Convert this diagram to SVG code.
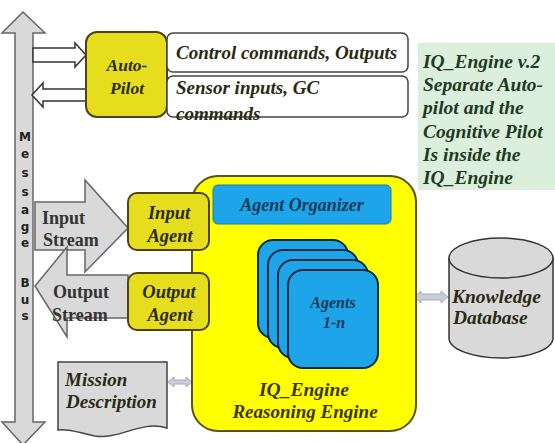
<svg xmlns="http://www.w3.org/2000/svg" width="555" height="443" viewBox="0 0 555 443">
<defs>
<style>
.bus{font-weight:bold;font-size:12px;fill:#222;text-anchor:middle}
.ybox{fill:#e6de1c;stroke:#4a4412;stroke-width:2}
.gray{fill:#d9d9d9;stroke:#666;stroke-width:1.5}
.card{fill:#1ea4e8;stroke:#0b2c40;stroke-width:2}
.hollow{fill:#fff;stroke:#333;stroke-width:1.5}
.small{fill:#c9ccd8;stroke:#aab;stroke-width:1}
</style>
</defs>
<rect width="555" height="443" fill="#fff"/>

<g id="message-bus">
<path class="gray" d="M23,12 L45,33 L33,33 L33,422 L45,422 L23,445 L2,422 L15,422 L15,33 L2,33 Z"/>
<text class="bus" font-family="DejaVu Sans" x="25" y="141">M</text>
<text class="bus" font-family="DejaVu Sans" x="25" y="158">e</text>
<text class="bus" font-family="DejaVu Sans" x="25" y="177">s</text>
<text class="bus" font-family="DejaVu Sans" x="25" y="196">s</text>
<text class="bus" font-family="DejaVu Sans" x="25" y="214">a</text>
<text class="bus" font-family="DejaVu Sans" x="25" y="231">g</text>
<text class="bus" font-family="DejaVu Sans" x="25" y="247">e</text>
<text class="bus" font-family="DejaVu Sans" x="25" y="287">B</text>
<text class="bus" font-family="DejaVu Sans" x="25" y="304">u</text>
<text class="bus" font-family="DejaVu Sans" x="25" y="320">s</text>
</g>

<g id="connectors">
<path class="hollow" d="M33,48 L75,48 L75,43 L86,55 L75,67 L75,62 L33,62 Z"/>
<path class="hollow" d="M86,89 L43,89 L43,83 L32,95 L43,107 L43,101 L86,101 Z"/>
<path class="gray" d="M35,202 L85,202 L85,180 L128,228 L85,272 L85,250 L35,250 Z"/>
<path class="gray" d="M128,275 L67,275 L67,247 L35,286 L67,337 L67,318 L128,318 Z"/>
<path class="small" d="M168,382 L174,377 L174,380 L186,380 L186,377 L192,382 L186,387 L186,384 L174,384 L174,387 Z"/>
<path class="small" d="M414,297 L421,291 L421,294 L441,294 L441,291 L448,297 L441,303 L441,300 L421,300 L421,303 Z"/>
</g>

<g id="autopilot">
<rect class="ybox" x="86" y="32" width="81" height="85" rx="11"/>
<text font-family="Liberation Serif" font-weight="bold" font-style="italic" fill="#2a2a14" x="127" y="71" font-size="17.5" text-anchor="middle">Auto-</text>
<text font-family="Liberation Serif" font-weight="bold" font-style="italic" fill="#2a2a14" x="127" y="94" font-size="17.5" text-anchor="middle">Pilot</text>
</g>

<g id="control-commands">
<rect x="167" y="33" width="241" height="39" rx="6" fill="#fff" stroke="#444" stroke-width="1.5"/>
<text font-family="Liberation Serif" font-weight="bold" font-style="italic" fill="#2a2a14" x="176" y="59" font-size="19">Control commands, Outputs</text>
</g>

<g id="sensor-inputs">
<rect x="167" y="76" width="241" height="41" rx="6" fill="#fff" stroke="#444" stroke-width="1.5"/>
<text font-family="Liberation Serif" font-weight="bold" font-style="italic" fill="#2a2a14" x="176" y="94" font-size="19">Sensor inputs, GC</text>
<text font-family="Liberation Serif" font-weight="bold" font-style="italic" fill="#2a2a14" x="176" y="120" font-size="19">commands</text>
</g>

<g id="note">
<rect x="418" y="43" width="137" height="147" fill="#dcefdc"/>
<text font-family="Liberation Serif" font-weight="bold" font-style="italic" fill="#1e3a22" font-size="19.5" x="423" y="68">IQ_Engine v.2</text>
<text font-family="Liberation Serif" font-weight="bold" font-style="italic" fill="#1e3a22" font-size="19.5" x="423" y="91">Separate Auto-</text>
<text font-family="Liberation Serif" font-weight="bold" font-style="italic" fill="#1e3a22" font-size="19.5" x="423" y="114">pilot and the</text>
<text font-family="Liberation Serif" font-weight="bold" font-style="italic" fill="#1e3a22" font-size="19.5" x="423" y="138">Cognitive Pilot</text>
<text font-family="Liberation Serif" font-weight="bold" font-style="italic" fill="#1e3a22" font-size="19.5" x="423" y="161">Is inside the</text>
<text font-family="Liberation Serif" font-weight="bold" font-style="italic" fill="#1e3a22" font-size="19.5" x="423" y="184">IQ_Engine</text>
</g>

<g id="iq-engine">
<rect x="192" y="176" width="224" height="255" rx="26" fill="#ffff00" stroke="#5a5010" stroke-width="2"/>
<text font-family="Liberation Serif" font-weight="bold" font-style="italic" fill="#3a3500" x="304" y="396" font-size="19.5" text-anchor="middle">IQ_Engine</text>
<text font-family="Liberation Serif" font-weight="bold" font-style="italic" fill="#3a3500" x="305" y="418" font-size="19" text-anchor="middle">Reasoning Engine</text>
</g>

<g id="agent-organizer">
<rect x="213" y="185" width="178" height="39" rx="5" fill="#1ea4e8" stroke="#1a7ab0" stroke-width="1"/>
<text font-family="Liberation Serif" font-weight="bold" font-style="italic" fill="#123a5a" x="302" y="211" font-size="18" text-anchor="middle">Agent Organizer</text>
</g>

<g id="agents">
<rect class="card" x="258" y="240" width="90" height="98" rx="15"/>
<rect class="card" x="268" y="250" width="90" height="98" rx="15"/>
<rect class="card" x="278" y="260" width="90" height="98" rx="15"/>
<rect class="card" x="288" y="270" width="90" height="98" rx="15"/>
<text font-family="Liberation Serif" font-weight="bold" font-style="italic" fill="#123a5a" x="333" y="308" font-size="16" text-anchor="middle">Agents</text>
<text font-family="Liberation Serif" font-weight="bold" font-style="italic" fill="#123a5a" x="334" y="328" font-size="16" text-anchor="middle">1-n</text>
</g>

<g id="input-agent">
<rect class="ybox" x="128" y="193" width="81" height="57" rx="9"/>
<text font-family="Liberation Serif" font-weight="bold" font-style="italic" fill="#2a2a14" x="169" y="219" font-size="18.5" text-anchor="middle">Input</text>
<text font-family="Liberation Serif" font-weight="bold" font-style="italic" fill="#2a2a14" x="170" y="242" font-size="18.5" text-anchor="middle">Agent</text>
</g>

<g id="output-agent">
<rect class="ybox" x="128" y="273" width="81" height="57" rx="9"/>
<text font-family="Liberation Serif" font-weight="bold" font-style="italic" fill="#2a2a14" x="169" y="298" font-size="18.5" text-anchor="middle">Output</text>
<text font-family="Liberation Serif" font-weight="bold" font-style="italic" fill="#2a2a14" x="170" y="321" font-size="18.5" text-anchor="middle">Agent</text>
</g>

<g id="input-stream">
<text font-family="Liberation Serif" font-weight="bold" fill="#333" x="42" y="224" font-size="18">Input</text>
<text font-family="Liberation Serif" font-weight="bold" fill="#333" x="43" y="246" font-size="18">Stream</text>
</g>

<g id="output-stream">
<text font-family="Liberation Serif" font-weight="bold" fill="#333" x="53" y="298" font-size="18">Output</text>
<text font-family="Liberation Serif" font-weight="bold" fill="#333" x="52" y="321" font-size="18">Stream</text>
</g>

<g id="mission-description">
<path class="gray" d="M58,362 L167,362 L167,428 C140,420 120,440 95,436 C80,433 68,428 58,430 Z" style="stroke:#444"/>
<text font-family="Liberation Serif" font-weight="bold" font-style="italic" fill="#2a2a14" x="65" y="386" font-size="19">Mission</text>
<text font-family="Liberation Serif" font-weight="bold" font-style="italic" fill="#2a2a14" x="66" y="408" font-size="19">Description</text>
</g>

<g id="knowledge-database">
<path d="M449,258 L449,338 A52,20 0 0 0 553,338 L553,258" fill="#d9d9d9" stroke="#333" stroke-width="1.5"/>
<ellipse cx="501" cy="258" rx="52" ry="20" fill="#d9d9d9" stroke="#333" stroke-width="1.5"/>
<text font-family="Liberation Serif" font-weight="bold" font-style="italic" fill="#2a2a14" x="452" y="303" font-size="19.5">Knowledge</text>
<text font-family="Liberation Serif" font-weight="bold" font-style="italic" fill="#2a2a14" x="453" y="324" font-size="19.5">Database</text>
</g>
</svg>
